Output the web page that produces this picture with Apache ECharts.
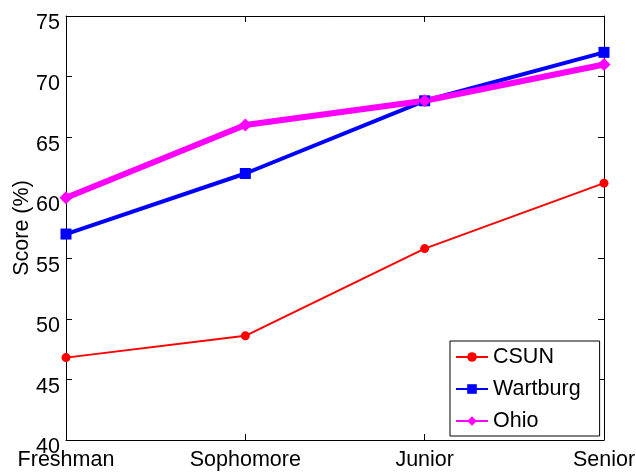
<!DOCTYPE html>
<html>
<head>
<meta charset="utf-8">
<script src="https://cdn.jsdelivr.net/npm/echarts@6/dist/echarts.min.js"></script>
<style>
  html, body { margin: 0; padding: 0; background: #fff; }
  #chart { width: 636px; height: 473px; }
</style>
</head>
<body>
<div id="chart"></div>
<script>
// Class year groups along the x axis
const years = ['Freshman', 'Sophomore', 'Junior', 'Senior'];

// Scores (%) by school
const csun = [46.8, 48.6, 55.8, 61.2];
const wartburg = [57, 62, 68, 72];
const ohio = [60, 66, 68, 71];

// Y axis range and step
const yMin = 40, yMax = 75, yStep = 5;

const font = 'Liberation Sans, Arial, Helvetica, sans-serif';
const fs = 21.5;
const chart = echarts.init(document.getElementById('chart'), null, { renderer: 'canvas' });

const tickStyle = { show: true, inside: true, length: 6, lineStyle: { color: '#000', width: 1 } };
const lineStyle = { color: '#000', width: 1 };

chart.setOption({
  animation: false,
  backgroundColor: '#fff',
  textStyle: { fontFamily: font },
  grid: { left: 66, right: 32, top: 16, bottom: 33, containLabel: false, outerBoundsMode: 'none' },
  xAxis: [
    {
      type: 'category', data: years, boundaryGap: false, position: 'bottom',
      axisLine: { show: true, lineStyle }, axisTick: Object.assign({ alignWithLabel: true }, tickStyle),
      axisLabel: { color: '#000', fontSize: fs, fontFamily: font, margin: 9 },
      splitLine: { show: false }
    },
    {
      type: 'category', data: years, boundaryGap: false, position: 'top',
      axisLine: { show: true, lineStyle }, axisTick: tickStyle,
      axisLabel: { show: false }, splitLine: { show: false }
    }
  ],
  yAxis: [
    {
      type: 'value', min: yMin, max: yMax, interval: yStep, position: 'left',
      name: 'Score (%)', nameLocation: 'middle', nameGap: 33, nameMoveOverlap: false,
      nameTextStyle: { color: '#000', fontSize: fs, fontFamily: font },
      axisLine: { show: true, lineStyle }, axisTick: tickStyle,
      axisLabel: { color: '#000', fontSize: fs, fontFamily: font, margin: 6, verticalAlign: 'top', lineHeight: 15 },
      splitLine: { show: false }
    },
    {
      type: 'value', min: yMin, max: yMax, interval: yStep, position: 'right',
      axisLine: { show: true, lineStyle }, axisTick: tickStyle,
      axisLabel: { show: false }, splitLine: { show: false }
    }
  ],
  legend: {
    orient: 'vertical', left: 450, top: 341,
    backgroundColor: '#fff', borderColor: '#000', borderWidth: 1, borderRadius: 0,
    padding: [5, 19, 4, 5], itemGap: 10, itemWidth: 32, itemHeight: 12,
    textStyle: { color: '#000', fontSize: fs, fontFamily: font, lineHeight: 22 },
    data: ['CSUN', 'Wartburg', 'Ohio']
  },
  series: [
    {
      name: 'CSUN', type: 'line', data: csun, color: '#ff0000',
      lineStyle: { width: 2 }, symbol: 'circle', symbolSize: 9, itemStyle: { color: '#ff0000' }
    },
    {
      name: 'Wartburg', type: 'line', data: wartburg, color: '#0000ff',
      lineStyle: { width: 4 }, symbol: 'rect', symbolSize: 11, itemStyle: { color: '#0000ff' }
    },
    {
      name: 'Ohio', type: 'line', data: ohio, color: '#ff00ff', z: 3,
      lineStyle: { width: 6 }, symbol: 'diamond', symbolSize: 13, itemStyle: { color: '#ff00ff' }
    }
  ]
});
</script>
</body>
</html>
